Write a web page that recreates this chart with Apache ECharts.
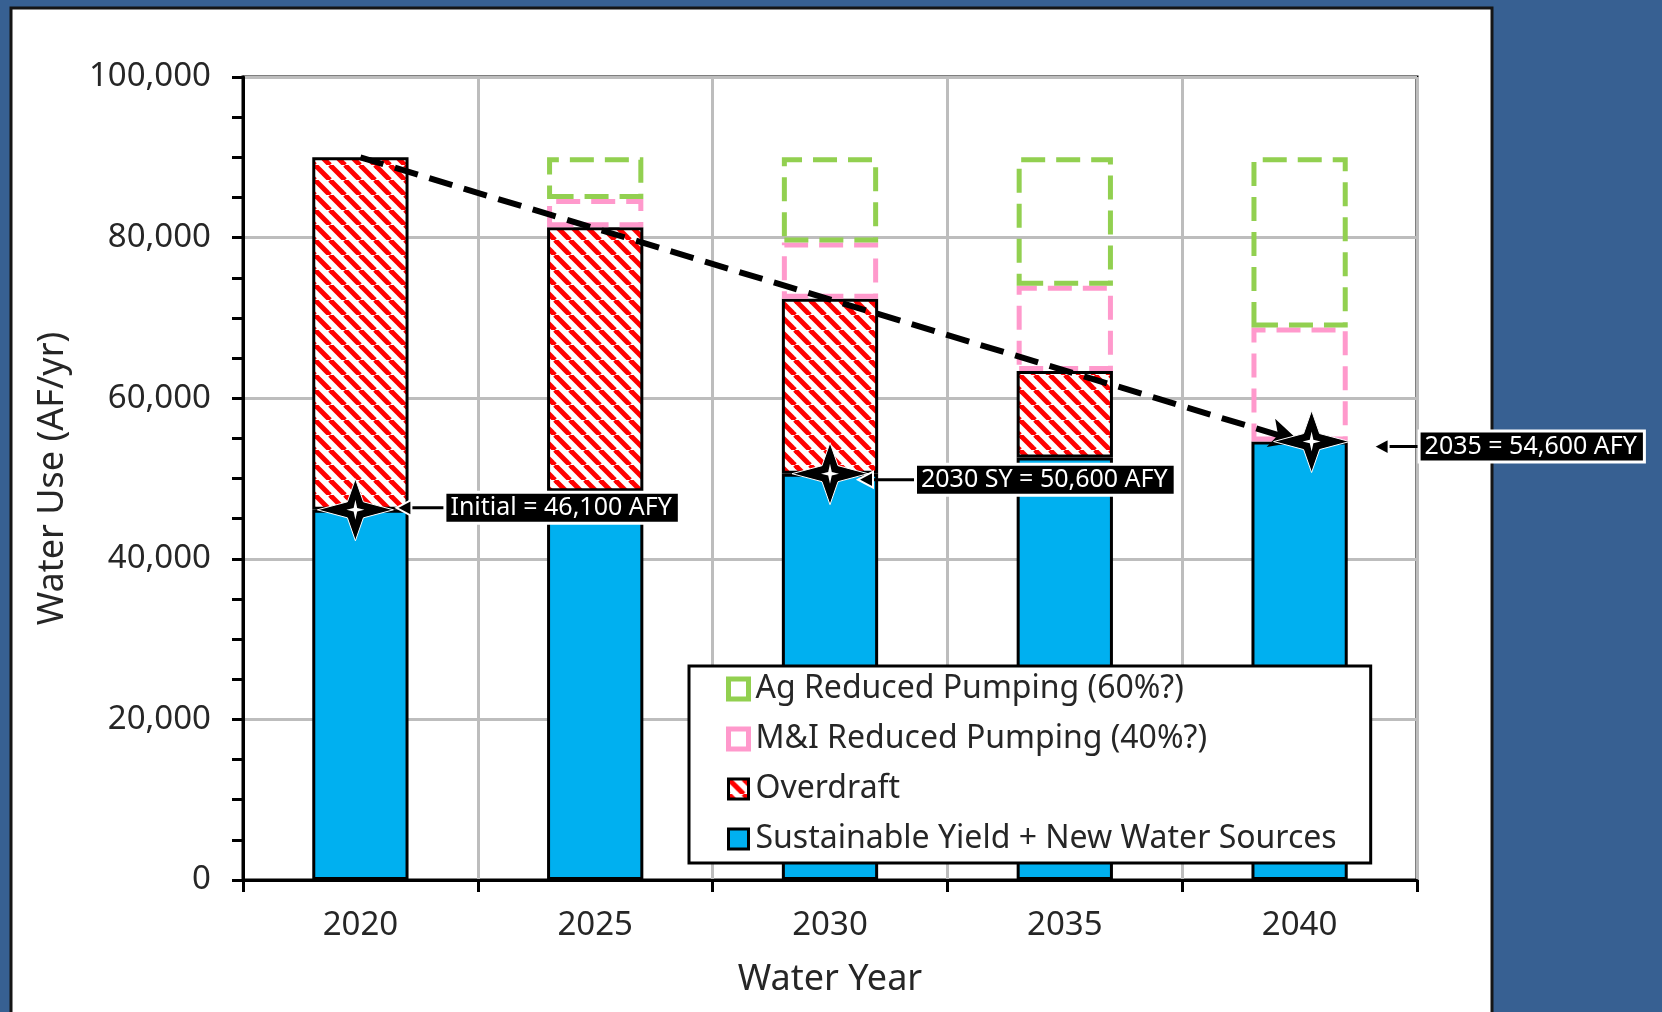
<!DOCTYPE html>
<html>
<head>
<meta charset="utf-8">
<title>Water Use</title>
<script src="https://cdn.jsdelivr.net/npm/echarts@6/dist/echarts.min.js"></script>
<style>
html, body { margin: 0; padding: 0; background: #376092; }
#chart { width: 1662px; height: 1012px; }
</style>
</head>
<body>
<div id="chart"></div>
<script>
// data
var years = ['2020', '2025', '2030', '2035', '2040'];
var sustainableYield = [46100, 48400, 50600, 52600, 54600];
var overdraft = [43900, 32900, 21800, 10800, 0];
var miReduced = [0, 3500, 7000, 10600, 14200];
var agReduced = [0, 5200, 10600, 16000, 21200];
var yTicks = [0, 20000, 40000, 60000, 80000, 100000];
var trendFrom = ['2020', 90000];
var trendTo = ['2040', 54600];
var calloutYears = ['2020', '2030', '2040'];
var calloutValues = [46100, 50600, 54600];
var calloutTexts = ['Initial = 46,100 AFY', '2030 SY = 50,600 AFY', '2035 = 54,600 AFY'];

// callout layout (px offsets from the point)
var calloutLayout = [
    { sx: -5, tip: 36, box: 86, dy: -2 },
    { sx: 0, tip: 28, box: 87, dy: 6 },
    { sx: 12, tip: 74, box: 121, dy: 5 }
];

var FONT = '"Noto Sans", sans-serif';
var TXT = '#262626';

function hatch() {
    var n = 15;
    var c = document.createElement('canvas');
    c.width = n; c.height = n;
    var g = c.getContext('2d');
    g.fillStyle = '#fff';
    g.fillRect(0, 0, n, n);
    g.strokeStyle = '#ff0000';
    g.lineWidth = 5;
    [[-n, 0], [0, 0], [n, 0]].forEach(function (o) {
        g.beginPath();
        g.moveTo(o[0], o[1]);
        g.lineTo(o[0] + n, o[1] + n);
        g.stroke();
    });
    return { image: c, repeat: 'repeat' };
}

function blankZero(arr) {
    return arr.map(function (v) { return v === 0 ? '-' : v; });
}

function star(x, y, w, h, k) {
    return [[x, y - h], [x + k, y - k], [x + w, y], [x + k, y + k],
        [x, y + h], [x - k, y + k], [x - w, y], [x - k, y - k]];
}

var chart = echarts.init(document.getElementById('chart'));

var option = {
    backgroundColor: '#376092',
    animation: false,
    graphic: [{
        type: 'rect',
        z: -10,
        shape: { x: 11, y: 8, width: 1481, height: 1020 },
        style: { fill: '#fff', stroke: '#151515', lineWidth: 3 }
    }],
    grid: {
        left: 243, right: 245, top: 77, bottom: 132,
        show: true, borderColor: '#000', borderWidth: 3, backgroundColor: 'transparent'
    },
    legend: {
        left: 689, top: 666,
        orient: 'vertical',
        backgroundColor: '#fff',
        borderColor: '#000', borderWidth: 3,
        padding: [7, 34, 8, 37],
        itemGap: 18,
        itemWidth: 20, itemHeight: 20,
        textStyle: { fontFamily: FONT, fontSize: 32, color: TXT, padding: [0, 0, 0, 2] },
        data: [
            { name: 'Ag Reduced Pumping (60%?)', icon: 'rect', itemStyle: { borderWidth: 5, borderType: 'solid' } },
            { name: 'M&I Reduced Pumping (40%?)', icon: 'rect', itemStyle: { borderWidth: 5, borderType: 'solid' } },
            { name: 'Overdraft', icon: 'rect', itemStyle: { borderWidth: 3 } },
            { name: 'Sustainable Yield + New Water Sources', icon: 'rect', itemStyle: { borderWidth: 3 } }
        ]
    },
    xAxis: {
        type: 'category',
        data: years,
        name: 'Water Year',
        nameLocation: 'middle',
        nameGap: 82,
        nameTextStyle: { fontFamily: FONT, fontSize: 36, color: TXT },
        axisLine: { lineStyle: { color: '#000', width: 3 } },
        axisTick: { show: true, length: 12, interval: 0, lineStyle: { color: '#000', width: 3 } },
        axisLabel: { fontFamily: FONT, fontSize: 33, color: TXT, margin: 29, interval: 0 },
        splitLine: { show: true, interval: 0, lineStyle: { color: '#BDBDBD', width: 3 } }
    },
    yAxis: {
        type: 'value',
        min: yTicks[0],
        max: yTicks[yTicks.length - 1],
        interval: yTicks[1] - yTicks[0],
        name: 'Water Use (AF/yr)',
        nameLocation: 'middle',
        nameGap: 172,
        nameTextStyle: { fontFamily: FONT, fontSize: 36, color: TXT },
        axisLine: { show: true, lineStyle: { color: '#000', width: 3 } },
        axisTick: { show: true, length: 11, lineStyle: { color: '#000', width: 3 } },
        minorTick: { show: true, splitNumber: 4, length: 11, lineStyle: { color: '#000', width: 3 } },
        axisLabel: {
            fontFamily: FONT, fontSize: 33, color: TXT, margin: 32,
            formatter: function (v) { return v.toLocaleString('en-US'); }
        },
        splitLine: { show: true, lineStyle: { color: '#BDBDBD', width: 3 } }
    },
    series: [
        {
            name: 'Sustainable Yield + New Water Sources',
            type: 'bar', stack: 'use',
            barCategoryGap: '59%',
            itemStyle: { color: '#00B0F0', borderColor: '#000', borderWidth: 3 },
            data: sustainableYield
        },
        {
            name: 'Overdraft',
            type: 'bar', stack: 'use',
            itemStyle: { color: hatch(), borderColor: '#000', borderWidth: 3 },
            data: blankZero(overdraft)
        },
        {
            name: 'M&I Reduced Pumping (40%?)',
            type: 'bar', stack: 'use',
            itemStyle: { color: 'rgba(255,255,255,0)', borderColor: '#FF99CC', borderWidth: 5, borderType: [24, 11] },
            data: blankZero(miReduced)
        },
        {
            name: 'Ag Reduced Pumping (60%?)',
            type: 'bar', stack: 'use',
            itemStyle: { color: 'rgba(255,255,255,0)', borderColor: '#92D050', borderWidth: 5, borderType: [24, 11] },
            data: blankZero(agReduced),
            markLine: {
                silent: true,
                z: 5,
                symbol: ['none', 'arrow'],
                symbolSize: [22, 30],
                label: { show: false },
                lineStyle: { color: '#000', width: 6, type: [24, 12] },
                data: [[{ coord: trendFrom }, { coord: trendTo }]]
            }
        },
        {
            name: 'callouts',
            type: 'custom',
            z: 8,
            silent: true,
            data: calloutYears.map(function (y, i) { return [y, calloutValues[i]]; }),
            renderItem: function (params, api) {
                var i = params.dataIndex;
                var L = calloutLayout[i];
                var p = api.coord([api.value(0), api.value(1)]);
                var x = p[0], y = p[1];
                var sx = x + L.sx;
                var ay = y + L.dy;
                return {
                    type: 'group',
                    children: [
                        {
                            type: 'line',
                            shape: { x1: x + L.box, y1: ay, x2: x + L.tip + 10, y2: ay },
                            style: { stroke: '#000', lineWidth: 3 }
                        },
                        {
                            type: 'polygon',
                            shape: { points: [[x + L.tip, ay], [x + L.tip + 15, ay - 8], [x + L.tip + 15, ay + 8]] },
                            style: { fill: '#000', stroke: '#fff', lineWidth: 2 }
                        },
                        {
                            type: 'polygon',
                            shape: { points: star(sx, y, 38, 31, 8) },
                            style: { fill: '#000', stroke: '#fff', lineWidth: 1 }
                        },
                        {
                            type: 'polygon',
                            shape: { points: star(sx, y, 9, 10, 1.8) },
                            style: { fill: '#fff' }
                        },
                        {
                            type: 'text',
                            style: {
                                x: x + L.box, y: ay,
                                text: calloutTexts[i],
                                fill: '#fff',
                                font: '25px ' + FONT,
                                align: 'left', verticalAlign: 'middle',
                                backgroundColor: '#000',
                                borderColor: '#fff', borderWidth: 3,
                                padding: [2, 6, 1, 4]
                            }
                        }
                    ]
                };
            }
        }
    ]
};

chart.setOption(option);
</script>
</body>
</html>
